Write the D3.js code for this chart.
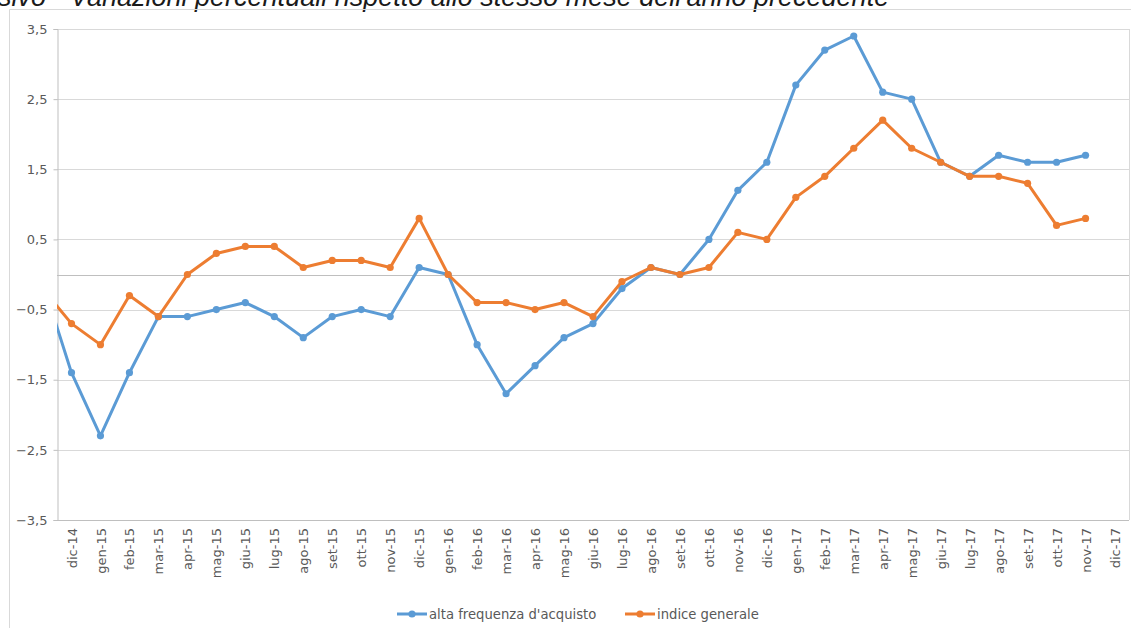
<!DOCTYPE html>
<html>
<head>
<meta charset="utf-8">
<script src="https://cdn.jsdelivr.net/npm/d3@7"></script>
<style>
  body { margin: 0; background: #fff; }
  svg { display: block; }
  .tick text { fill: #595959; font-family: 'DejaVu Sans', Verdana, sans-serif; }
</style>
</head>
<body>
<svg id="chart" width="1131" height="628"></svg>
<script>
// months shown on the axis (nov-14 sits just outside the plot, only its line segment shows)
const months = ['dic-14', 'gen-15', 'feb-15', 'mar-15', 'apr-15', 'mag-15', 'giu-15', 'lug-15',
  'ago-15', 'set-15', 'ott-15', 'nov-15', 'dic-15', 'gen-16', 'feb-16', 'mar-16', 'apr-16',
  'mag-16', 'giu-16', 'lug-16', 'ago-16', 'set-16', 'ott-16', 'nov-16', 'dic-16', 'gen-17',
  'feb-17', 'mar-17', 'apr-17', 'mag-17', 'giu-17', 'lug-17', 'ago-17', 'set-17', 'ott-17',
  'nov-17', 'dic-17'];

// values start at nov-14 (index -1)
const altaFrequenza = [-0.1, -1.4, -2.3, -1.4, -0.6, -0.6, -0.5, -0.4, -0.6, -0.9, -0.6, -0.5, -0.6,
  0.1, 0.0, -1.0, -1.7, -1.3, -0.9, -0.7, -0.2, 0.1, 0.0, 0.5, 1.2, 1.6, 2.7, 3.2, 3.4, 2.6, 2.5,
  1.6, 1.4, 1.7, 1.6, 1.6, 1.7];
const indiceGenerale = [-0.2, -0.7, -1.0, -0.3, -0.6, 0.0, 0.3, 0.4, 0.4, 0.1, 0.2, 0.2, 0.1,
  0.8, 0.0, -0.4, -0.4, -0.5, -0.4, -0.6, -0.1, 0.1, 0.0, 0.1, 0.6, 0.5, 1.1, 1.4, 1.8, 2.2, 1.8,
  1.6, 1.4, 1.4, 1.3, 0.7, 0.8];

const yTicks = [-3.5, -2.5, -1.5, -0.5, 0.5, 1.5, 2.5, 3.5];

const series = [
  { name: "alta frequenza d'acquisto", values: altaFrequenza, color: '#5b9bd5' },
  { name: 'indice generale', values: indiceGenerale, color: '#ed7d31' },
];

const svg = d3.select('#chart');
const plot = { left: 57, right: 1129, top: 29, bottom: 520 };

const x = d3.scaleLinear().domain([-0.5, months.length - 0.5]).range([plot.left, plot.right]);
const y = d3.scaleLinear().domain([-3.5, 3.5]).range([plot.bottom, plot.top]);
const fmt = (v) => d3.format('.1f')(v).replace('.', ',');

// title (cut off at the top like the original)
svg.append('text')
  .attr('x', -2)
  .attr('y', 6)
  .attr('font-family', "'Liberation Sans', Arial, sans-serif")
  .attr('font-style', 'italic')
  .attr('font-size', 27)
  .attr('fill', '#1a1a1a')
  .text("sivo - Variazioni percentuali rispetto allo stesso mese dell'anno precedente");

// outer chart border
svg.append('path')
  .attr('d', 'M9.5,640 V9.5 H1140')
  .attr('fill', 'none')
  .attr('stroke', '#d9d9d9');

// gridlines
svg.append('g')
  .selectAll('line')
  .data(yTicks)
  .join('line')
  .attr('x1', plot.left)
  .attr('x2', plot.right)
  .attr('y1', (d) => Math.round(y(d)) + 0.5)
  .attr('y2', (d) => Math.round(y(d)) + 0.5)
  .attr('stroke', (d) => (d === -3.5 ? '#bfbfbf' : '#d9d9d9'));

// zero line
svg.append('line')
  .attr('x1', plot.left)
  .attr('x2', plot.right)
  .attr('y1', Math.round(y(0)) + 0.5)
  .attr('y2', Math.round(y(0)) + 0.5)
  .attr('stroke', '#bfbfbf');

// right border of plot
svg.append('line')
  .attr('x1', plot.right + 0.5)
  .attr('x2', plot.right + 0.5)
  .attr('y1', plot.top)
  .attr('y2', plot.bottom)
  .attr('stroke', '#d9d9d9');

// y axis
const yAxis = svg.append('g')
  .attr('transform', `translate(${plot.left + 0.5},0)`)
  .call(d3.axisLeft(y).tickValues(yTicks).tickFormat(fmt).tickSize(4).tickPadding(6));
yAxis.select('.domain').attr('stroke', '#bfbfbf');
yAxis.selectAll('.tick line').attr('stroke', '#bfbfbf');
yAxis.selectAll('.tick text').attr('font-size', 13);

// x labels (rotated)
const xAxis = svg.append('g')
  .attr('transform', `translate(0,${plot.bottom})`)
  .call(d3.axisBottom(x).tickValues(d3.range(months.length)).tickFormat((i) => months[i]).tickSize(0));
xAxis.select('.domain').remove();
xAxis.selectAll('.tick text')
  .attr('font-size', 13)
  .attr('transform', 'rotate(-90)')
  .attr('x', -8)
  .attr('y', 0)
  .attr('dy', '0.35em')
  .attr('text-anchor', 'end');

// clip for the lines
svg.append('clipPath')
  .attr('id', 'plotClip')
  .append('rect')
  .attr('x', plot.left)
  .attr('y', plot.top - 10)
  .attr('width', plot.right - plot.left)
  .attr('height', plot.bottom - plot.top + 20);

const line = d3.line()
  .x((d, i) => x(i - 1))
  .y((d) => y(d));

const lines = svg.append('g').attr('clip-path', 'url(#plotClip)');
series.forEach((s) => {
  lines.append('path')
    .datum(s.values)
    .attr('fill', 'none')
    .attr('stroke', s.color)
    .attr('stroke-width', 3)
    .attr('stroke-linejoin', 'round')
    .attr('d', line);
  lines.selectAll(null)
    .data(s.values.map((v, i) => ({ v: v, i: i - 1 })).filter((d) => d.i >= 0))
    .join('circle')
    .attr('cx', (d) => x(d.i))
    .attr('cy', (d) => y(d.v))
    .attr('r', 3.6)
    .attr('fill', s.color);
});

// legend
const legendX = [397, 625];
series.forEach((s, k) => {
  const g = svg.append('g').attr('transform', `translate(${legendX[k]},614)`);
  g.append('line')
    .attr('x1', 0).attr('x2', 30)
    .attr('stroke', s.color)
    .attr('stroke-width', 3);
  g.append('circle').attr('cx', 15).attr('r', 3.6).attr('fill', s.color);
  g.append('text')
    .attr('x', 32)
    .attr('dy', '0.35em')
    .attr('font-family', "'DejaVu Sans', Verdana, sans-serif")
    .attr('font-size', 13.2)
    .attr('fill', '#595959')
    .text(s.name);
});
</script>
</body>
</html>
